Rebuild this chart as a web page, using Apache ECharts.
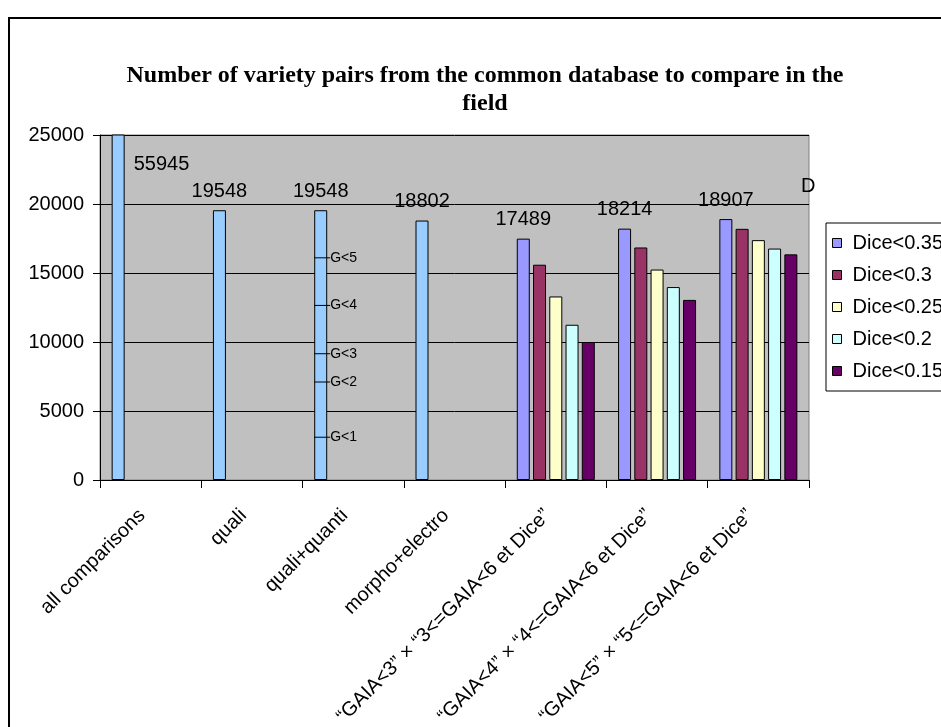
<!DOCTYPE html>
<html>
<head>
<meta charset="utf-8">
<script src="https://cdn.jsdelivr.net/npm/echarts@6/dist/echarts.min.js"></script>
<style>
  html, body { margin: 0; padding: 0; background: #fff; }
  #myChart { width: 941px; height: 727px; }
</style>
</head>
<body>
<div id="myChart"></div>
<script>
// categories (x axis)
var categories = [
  "all comparisons",
  "quali",
  "quali+quanti",
  "morpho+electro",
  "“GAIA<3” × “3<=GAIA<6 et Dice”",
  "“GAIA<4” × “4<=GAIA<6 et Dice”",
  "“GAIA<5” × “5<=GAIA<6 et Dice”"
];
// series values
var dice035 = [55945, 19548, 19548, 18802, 17489, 18214, 18907];
var dice03 = [null, null, null, null, 15600, 16850, 18200];
var dice025 = [null, null, null, null, 13300, 15250, 17380];
var dice02 = [null, null, null, null, 11250, 13980, 16770];
var dice015 = [null, null, null, null, 10000, 13050, 16350];
// first four bars are drawn in light blue
var singleBars = 4;
// G thresholds marked on the quali+quanti bar
var gValues = [16100, 12650, 9150, 7100, 3100];
var gLabels = ["G<5", "G<4", "G<3", "G<2", "G<1"];
var seriesNames = ["Dice<0.35", "Dice<0.3", "Dice<0.25", "Dice<0.2", "Dice<0.15"];
var colors = ["#9999ff", "#993366", "#ffffcc", "#ccffff", "#660066"];

var barW = 13;
var gapPx = 3.25;
var font = "'Liberation Sans', Arial, sans-serif";

var myChart = echarts.init(document.getElementById("myChart"));

var firstData = dice035.map(function (v, i) {
  var item = { value: v };
  if (i < singleBars) item.itemStyle = { color: "#99ccff" };
  if (i === 0) {
    // bar is cut by the axis max, label sits beside it
    item.label = { position: [22, 30], align: "left", verticalAlign: "middle" };
  }
  return item;
});

var allData = [firstData, dice03, dice025, dice02, dice015];

var series = allData.map(function (d, k) {
  var s = {
    name: seriesNames[k],
    type: "bar",
    data: d,
    barWidth: barW,
    barGap: "25%",
    clip: true,
    itemStyle: { color: colors[k], borderColor: "#000", borderWidth: 1 }
  };
  if (k === 0) {
    s.label = {
      show: true,
      position: "top",
      distance: 9,
      color: "#000",
      fontFamily: font,
      fontSize: 20
    };
  }
  return s;
});

// marks on the quali+quanti bar
series.push({
  type: "custom",
  name: "G",
  data: gValues.map(function (v, i) { return [2, v, gLabels[i]]; }),
  z: 5,
  renderItem: function (params, api) {
    var p = api.coord([api.value(0), api.value(1)]);
    var left = p[0] - (5 * barW + 4 * gapPx) / 2;
    var right = left + barW;
    return {
      type: "group",
      children: [
        {
          type: "line",
          shape: { x1: left, y1: p[1], x2: right + 3, y2: p[1] },
          style: { stroke: "#000", lineWidth: 1 }
        },
        {
          type: "text",
          style: {
            x: right + 3,
            y: p[1],
            text: api.value(2),
            fill: "#000",
            font: "14px " + font,
            verticalAlign: "middle"
          }
        }
      ]
    };
  }
});

var option = {
  animation: false,
  backgroundColor: "#fff",
  title: {
    text: "Number of variety pairs from the common database to compare in the\nfield",
    left: 480,
    textAlign: "center",
    top: 57,
    textStyle: {
      fontFamily: "'Liberation Serif', 'Times New Roman', serif",
      fontWeight: "bold",
      fontSize: 24,
      lineHeight: 28,
      color: "#000"
    }
  },
  legend: {
    data: seriesNames,
    orient: "vertical",
    left: 826,
    top: 223,
    icon: "rect",
    itemWidth: 9,
    itemHeight: 9,
    itemGap: 12,
    padding: [10, 60, 10, 6],
    borderColor: "#000",
    borderWidth: 1,
    backgroundColor: "#fff",
    itemStyle: { borderColor: "#000", borderWidth: 1 },
    textStyle: { fontFamily: font, fontSize: 20, color: "#000", padding: [0, 0, 0, 6] }
  },
  grid: {
    left: 100,
    right: 132,
    top: 135,
    bottom: 247,
    show: true,
    backgroundColor: "#c0c0c0",
    borderColor: "#808080",
    borderWidth: 1,
    containLabel: false,
    outerBoundsMode: "none"
  },
  xAxis: {
    type: "category",
    data: categories,
    axisLine: { lineStyle: { color: "#000", width: 1 } },
    axisTick: { show: true, length: 8, lineStyle: { color: "#000" } },
    axisLabel: {
      rotate: 45,
      interval: 0,
      margin: 24,
      padding: [0, 12, 0, 0],
      color: "#000",
      fontFamily: font,
      fontSize: 20
    },
    splitLine: { show: false }
  },
  yAxis: {
    type: "value",
    min: 0,
    max: 25000,
    interval: 5000,
    axisLine: { show: true, lineStyle: { color: "#000", width: 1 } },
    axisTick: { show: true, length: 7, lineStyle: { color: "#000" } },
    axisLabel: {
      margin: 16,
      color: "#000",
      fontFamily: font,
      fontSize: 20,
      formatter: function (v) { return String(v); }
    },
    splitLine: { show: true, lineStyle: { color: "#000", width: 1 } }
  },
  graphic: [
    {
      type: "rect",
      shape: { x: 9, y: 18, width: 980, height: 780 },
      style: { fill: "none", stroke: "#000", lineWidth: 2 },
      silent: true
    },
    {
      type: "text",
      left: 801,
      top: 176,
      style: { text: "D", font: "20px " + font, fill: "#000" }
    }
  ],
  series: series
};

myChart.setOption(option);
</script>
</body>
</html>
